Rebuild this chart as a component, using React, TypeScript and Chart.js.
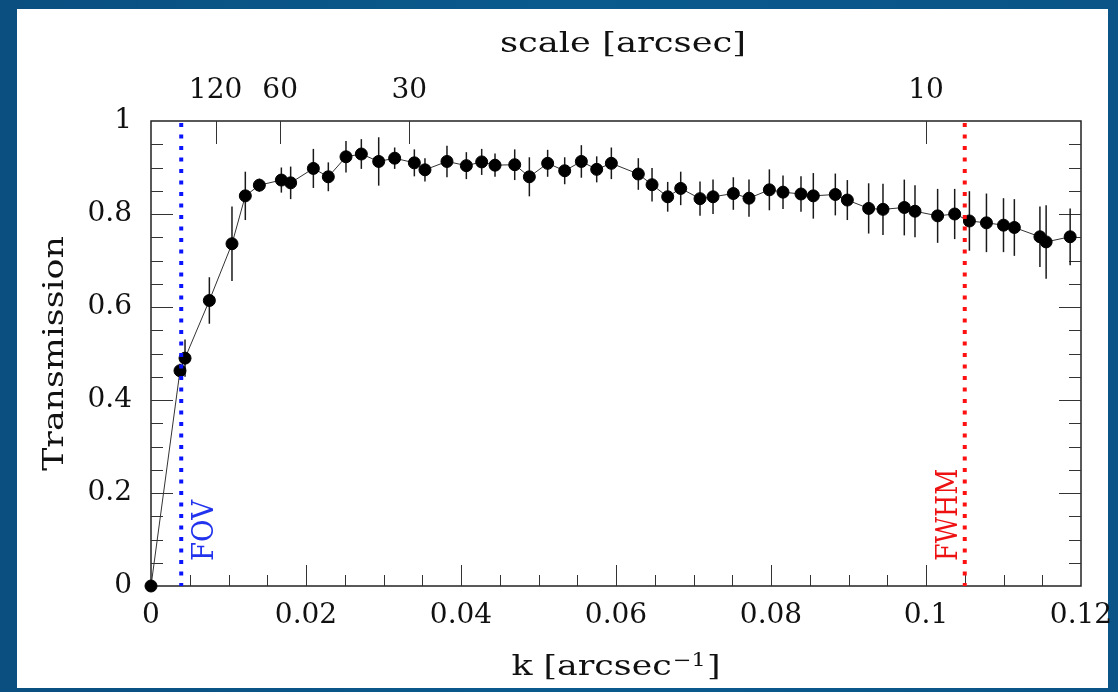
import React, { useEffect, useRef } from 'react';
import { Chart, registerables } from 'chart.js';

Chart.register(...registerables);

// ---- data ----
const kValues = [
  0, 0.00374, 0.00439, 0.00753, 0.01045, 0.01217, 0.01398, 0.01682, 0.01802, 0.02095,
  0.02288, 0.02516, 0.02714, 0.02938, 0.03144, 0.03398, 0.03535, 0.03819, 0.04069, 0.04267,
  0.04439, 0.04693, 0.04882, 0.05118, 0.05338, 0.05553, 0.05751, 0.0594, 0.06288, 0.06465,
  0.06667, 0.06835, 0.07084, 0.07252, 0.07514, 0.07716, 0.07979, 0.08155, 0.08387, 0.08546,
  0.0883, 0.08985, 0.0926, 0.09445, 0.0972, 0.09858, 0.1015, 0.1037, 0.1056, 0.1078,
  0.11, 0.1114, 0.1147, 0.1155, 0.1186,
];
const transmission = [
  0, 0.463, 0.49, 0.614, 0.736, 0.839, 0.862, 0.873, 0.867, 0.898,
  0.88, 0.923, 0.929, 0.913, 0.92, 0.91, 0.895, 0.913, 0.904, 0.912,
  0.905, 0.906, 0.88, 0.909, 0.893, 0.913, 0.896, 0.909, 0.886, 0.863,
  0.837, 0.855, 0.833, 0.837, 0.844, 0.834, 0.852, 0.847, 0.843, 0.839,
  0.842, 0.83, 0.812, 0.81, 0.814, 0.806, 0.796, 0.8, 0.785, 0.781,
  0.776, 0.771, 0.751, 0.74, 0.751,
];
const transmissionErr = [
  0, 0.015, 0.04, 0.05, 0.08, 0.052, 0.014, 0.027, 0.035, 0.042,
  0.031, 0.034, 0.032, 0.052, 0.023, 0.029, 0.025, 0.034, 0.029, 0.028,
  0.025, 0.033, 0.042, 0.029, 0.029, 0.035, 0.028, 0.034, 0.034, 0.036,
  0.032, 0.036, 0.037, 0.037, 0.035, 0.04, 0.044, 0.036, 0.038, 0.049,
  0.045, 0.043, 0.054, 0.055, 0.06, 0.056, 0.058, 0.054, 0.064, 0.063,
  0.058, 0.061, 0.065, 0.079, 0.061,
];
const scaleTickArcsec = [120, 60, 30, 10];
const fovK = 0.0039;
const fwhmK = 0.105;
const fovLabel = 'FOV';
const fwhmLabel = 'FWHM';
const topTitle = 'scale [arcsec]';
const yTitle = 'Transmission';
const xTitleMain = 'k [arcsec';
const xTitleSup = '\u22121';
const xTitleEnd = ']';

const SERIF = '"DejaVu Serif", serif';
const fmt = (v: number) => String(parseFloat(Number(v).toFixed(4)));

const decorPlugin = {
  id: 'decor',
  beforeDraw(chart: any) {
    const ctx = chart.ctx;
    ctx.save();
    const g = ctx.createLinearGradient(0, 0, chart.width, 0);
    g.addColorStop(0, '#0a4f80');
    g.addColorStop(0.5, '#0a5a8e');
    g.addColorStop(1, '#0a5487');
    ctx.fillStyle = g;
    ctx.fillRect(0, 0, chart.width, chart.height);
    ctx.fillStyle = '#ffffff';
    ctx.fillRect(17, 9, 1091, 679);
    ctx.restore();
  },
  beforeDatasetsDraw(chart: any) {
    const ctx = chart.ctx;
    const { left, right, top, bottom } = chart.chartArea;
    const x = chart.scales.x;
    const x2 = chart.scales.x2;
    const y = chart.scales.y;
    ctx.save();
    // frame
    ctx.strokeStyle = '#222';
    ctx.lineWidth = 1.5;
    ctx.strokeRect(left, top, right - left, bottom - top);
    // bottom ticks
    ctx.lineWidth = 1;
    ctx.strokeStyle = '#333';
    for (let i = 1; i < 24; i++) {
      const px = Math.round(x.getPixelForValue(i * 0.005)) + 0.5;
      const len = i % 4 === 0 ? 21 : 11;
      ctx.beginPath();
      ctx.moveTo(px, bottom);
      ctx.lineTo(px, bottom - len);
      ctx.stroke();
    }
    // left/right ticks
    for (let i = 1; i < 20; i++) {
      const py = Math.round(y.getPixelForValue(i * 0.05)) + 0.5;
      const len = i % 4 === 0 ? 22 : 12;
      ctx.beginPath();
      ctx.moveTo(left, py);
      ctx.lineTo(left + len, py);
      ctx.moveTo(right, py);
      ctx.lineTo(right - len, py);
      ctx.stroke();
    }
    // top scale ticks
    scaleTickArcsec.forEach((s) => {
      const px = Math.round(x2.getPixelForValue(1 / s)) + 0.5;
      ctx.beginPath();
      ctx.moveTo(px, top);
      ctx.lineTo(px, top + 23);
      ctx.stroke();
    });
    // error bars
    ctx.strokeStyle = '#1a1a1a';
    ctx.lineWidth = 1.5;
    kValues.forEach((k, i) => {
      const e = transmissionErr[i];
      if (!e) return;
      const px = x.getPixelForValue(k);
      ctx.beginPath();
      ctx.moveTo(px, y.getPixelForValue(transmission[i] - e));
      ctx.lineTo(px, y.getPixelForValue(transmission[i] + e));
      ctx.stroke();
    });
    ctx.restore();
  },
  afterDatasetsDraw(chart: any) {
    const ctx = chart.ctx;
    const { left, right, top, bottom } = chart.chartArea;
    const x = chart.scales.x;
    ctx.save();
    // dotted reference lines
    ctx.lineWidth = 4;
    ctx.setLineDash([4, 7.5]);
    const drawV = (k: number, color: string) => {
      const px = x.getPixelForValue(k);
      ctx.strokeStyle = color;
      ctx.beginPath();
      ctx.moveTo(px, top + 2);
      ctx.lineTo(px, bottom);
      ctx.stroke();
    };
    drawV(fovK, '#0a14ff');
    drawV(fwhmK, '#ff1010');
    ctx.setLineDash([]);

    const rotText = (
      text: string, bx: number, by: number, size: number, sx: number, color: string, align: CanvasTextAlign,
    ) => {
      ctx.save();
      ctx.translate(bx, by);
      ctx.rotate(-Math.PI / 2);
      ctx.scale(sx, 1);
      ctx.font = `${size}px ${SERIF}`;
      ctx.fillStyle = color;
      ctx.textAlign = align;
      ctx.textBaseline = 'alphabetic';
      ctx.fillText(text, 0, 0);
      ctx.restore();
    };
    rotText(fovLabel, x.getPixelForValue(fovK) + 32, bottom - 25, 29, 0.95, '#2233ee', 'left');
    rotText(fwhmLabel, x.getPixelForValue(fwhmK) - 8, bottom - 25, 30, 0.85, '#ee1111', 'left');

    // y title
    rotText(yTitle, 63, (top + bottom) / 2, 28, 1.24, '#111', 'center');

    // top title
    ctx.save();
    ctx.translate(623, 52);
    ctx.scale(1.26, 1);
    ctx.font = `28px ${SERIF}`;
    ctx.fillStyle = '#111';
    ctx.textAlign = 'center';
    ctx.textBaseline = 'alphabetic';
    ctx.fillText(topTitle, 0, 0);
    ctx.restore();

    // bottom title with superscript
    ctx.save();
    const sx = 1.24;
    ctx.font = `28px ${SERIF}`;
    const wMain = ctx.measureText(xTitleMain).width;
    const wEnd = ctx.measureText(xTitleEnd).width;
    ctx.font = `18px ${SERIF}`;
    const wSup = ctx.measureText(xTitleSup).width;
    const total = (wMain + wSup + wEnd + 2) * sx;
    const cx = (left + right) / 2;
    ctx.translate(cx - total / 2, 675);
    ctx.scale(sx, 1);
    ctx.fillStyle = '#111';
    ctx.textAlign = 'left';
    ctx.textBaseline = 'alphabetic';
    ctx.font = `28px ${SERIF}`;
    ctx.fillText(xTitleMain, 0, 0);
    ctx.font = `18px ${SERIF}`;
    ctx.fillText(xTitleSup, wMain + 1, -9);
    ctx.font = `28px ${SERIF}`;
    ctx.fillText(xTitleEnd, wMain + wSup + 2, 0);
    ctx.restore();

    ctx.restore();
  },
};

export default function App() {
  const canvasRef = useRef<HTMLCanvasElement | null>(null);

  useEffect(() => {
    if (!canvasRef.current) return;
    const points = kValues.map((k, i) => ({ x: k, y: transmission[i] }));
    const tickFont = { family: SERIF, size: 28 };
    const chart = new Chart(canvasRef.current, {
      type: 'line',
      data: {
        datasets: [
          {
            data: points,
            borderColor: '#333',
            borderWidth: 1,
            pointRadius: 6,
            pointBackgroundColor: '#000',
            pointBorderColor: '#000',
            pointBorderWidth: 1,
            tension: 0,
            fill: false,
            clip: false,
            xAxisID: 'x',
            yAxisID: 'y',
          },
        ],
      },
      options: {
        animation: false,
        responsive: false,
        devicePixelRatio: 1,
        parsing: false,
        layout: { padding: { left: 0, right: 37, top: 0, bottom: 0 } },
        plugins: { legend: { display: false }, tooltip: { enabled: false } },
        scales: {
          x: {
            type: 'linear',
            position: 'bottom',
            min: 0,
            max: 0.12,
            grid: { display: false, drawTicks: false },
            border: { display: false },
            ticks: {
              stepSize: 0.02,
              padding: 13,
              font: tickFont,
              color: '#111',
              maxRotation: 0,
              minRotation: 0,
              autoSkip: false,
              callback: (v: any) => fmt(v),
            },
            afterFit: (s: any) => {
              s.height = 106;
              s.paddingLeft = 0;
              s.paddingRight = 0;
            },
          },
          x2: {
            type: 'linear',
            position: 'top',
            min: 0,
            max: 0.12,
            grid: { display: false, drawTicks: false },
            border: { display: false },
            afterBuildTicks: (s: any) => {
              s.ticks = scaleTickArcsec.map((a) => ({ value: 1 / a }));
            },
            ticks: {
              padding: 13,
              font: tickFont,
              color: '#111',
              maxRotation: 0,
              minRotation: 0,
              autoSkip: false,
              callback: (v: any) => String(Math.round(1 / Number(v))),
            },
            afterFit: (s: any) => {
              s.height = 121;
              s.paddingLeft = 0;
              s.paddingRight = 0;
            },
          },
          y: {
            type: 'linear',
            position: 'left',
            min: 0,
            max: 1,
            grid: { display: false, drawTicks: false },
            border: { display: false },
            ticks: {
              stepSize: 0.2,
              padding: 19,
              font: tickFont,
              color: '#111',
              callback: (v: any) => fmt(v),
            },
            afterFit: (s: any) => {
              s.width = 151;
              s.paddingTop = 0;
              s.paddingBottom = 0;
            },
          },
        },
      },
      plugins: [decorPlugin],
    } as any);
    return () => chart.destroy();
  }, []);

  return (
    <div style={{ position: 'fixed', left: 0, top: 0, width: 1118, height: 692 }}>
      <canvas
        ref={canvasRef}
        width={1118}
        height={692}
        style={{ display: 'block', width: 1118, height: 692 }}
      />
    </div>
  );
}
